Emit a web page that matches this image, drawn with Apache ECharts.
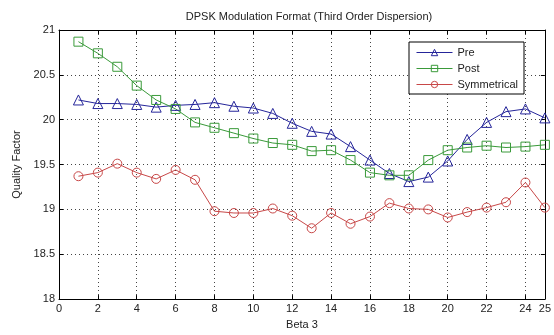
<!DOCTYPE html>
<html>
<head>
<meta charset="utf-8">
<script src="https://cdn.jsdelivr.net/npm/echarts@6/dist/echarts.min.js"></script>
<style>
  html, body { margin: 0; padding: 0; background: #fff; }
  #chart { width: 554px; height: 335px; }
</style>
</head>
<body>
<div id="chart"></div>
<script>
const beta = [1, 2, 3, 4, 5, 6, 7, 8, 9, 10, 11, 12, 13, 14, 15, 16, 17, 18, 19, 20, 21, 22, 23, 24, 25];
const pre = [20.22, 20.18, 20.18, 20.17, 20.14, 20.16, 20.17, 20.19, 20.15, 20.13, 20.07, 19.96, 19.87,
  19.84, 19.70, 19.55, 19.40, 19.31, 19.36, 19.54, 19.78, 19.97, 20.09, 20.12, 20.02];
const post = [20.87, 20.74, 20.59, 20.38, 20.22, 20.12, 19.97, 19.91, 19.85, 19.79, 19.74, 19.72, 19.65,
  19.66, 19.55, 19.41, 19.38, 19.38, 19.55, 19.66, 19.69, 19.71, 19.69, 19.70, 19.72];
const symmetrical = [19.37, 19.41, 19.51, 19.41, 19.34, 19.44, 19.33, 18.98, 18.96, 18.96, 19.01, 18.93, 18.79,
  18.96, 18.84, 18.92, 19.07, 19.01, 19.00, 18.91, 18.97, 19.02, 19.08, 19.30, 19.02];

const FONT = 'Arial, "Liberation Sans", sans-serif';
const TEXT = '#222';

const chart = echarts.init(document.getElementById('chart'));

const makeSeries = (name, values, symbol, color, size) => ({
  name,
  type: 'line',
  data: beta.map((b, i) => [b, values[i]]),
  symbol,
  symbolSize: size,
  showAllSymbol: true,
  lineStyle: { color, width: 1 },
  itemStyle: { color: 'rgba(255,255,255,0)', borderColor: color, borderWidth: 1 },
  emphasis: { disabled: true },
  animation: false,
});

const baseX = {
  type: 'value',
  min: 0,
  max: 25,
  interval: 2,
  axisLine: { show: true, onZero: false, lineStyle: { color: '#000', width: 1 } },
  axisTick: { show: true, inside: true, length: 4, lineStyle: { color: '#000' } },
  splitLine: { show: false },
};
const baseY = {
  type: 'value',
  min: 18,
  max: 21,
  interval: 0.5,
  axisLine: { show: true, onZero: false, lineStyle: { color: '#000', width: 1 } },
  axisTick: { show: true, inside: true, length: 4, lineStyle: { color: '#000' } },
  splitLine: { show: false },
};

chart.setOption({
  backgroundColor: '#fff',
  textStyle: { fontFamily: FONT },
  title: {
    text: 'DPSK Modulation Format (Third Order Dispersion)',
    left: 304,
    textAlign: 'center',
    top: 6,
    textStyle: { fontSize: 11, fontWeight: 'normal', color: TEXT, fontFamily: FONT },
  },
  grid: { left: 59, right: 4, top: 30, bottom: 28 },
  legend: {
    orient: 'vertical',
    left: 409,
    top: 42,
    padding: [5, 6, 4, 7],
    itemGap: 5,
    itemWidth: 36,
    itemHeight: 8,
    backgroundColor: '#fff',
    borderColor: '#000',
    borderWidth: 1,
    borderRadius: 0,
    itemStyle: { borderWidth: 1 },
    lineStyle: { width: 1 },
    textStyle: { fontSize: 11, color: TEXT, fontFamily: FONT },
    data: ['Pre', 'Post', 'Symmetrical'],
  },
  xAxis: [
    Object.assign({}, baseX, {
      position: 'bottom',
      name: 'Beta 3',
      nameLocation: 'middle',
      nameGap: 15,
      nameTextStyle: { fontSize: 11, color: TEXT },
      axisLabel: { fontSize: 11, color: TEXT, margin: 4 },
      splitLine: { show: true, lineStyle: { type: [1, 3], color: '#444', width: 1 } },
    }),
    Object.assign({}, baseX, { position: 'top', axisLabel: { show: false } }),
  ],
  yAxis: [
    Object.assign({}, baseY, {
      position: 'left',
      name: 'Quality Factor',
      nameLocation: 'middle',
      nameGap: 35,
      nameTextStyle: { fontSize: 11, color: TEXT },
      axisLabel: { fontSize: 11, color: TEXT, margin: 4 },
      splitLine: { show: true, lineStyle: { type: [1, 3], color: '#444', width: 1 } },
    }),
    Object.assign({}, baseY, { position: 'right', axisLabel: { show: false } }),
  ],
  series: [
    makeSeries('Pre', pre, 'triangle', '#25259a', 10),
    makeSeries('Post', post, 'rect', '#3a9a3a', 9),
    makeSeries('Symmetrical', symmetrical, 'circle', '#c84848', 9),
  ],
});
</script>
</body>
</html>
